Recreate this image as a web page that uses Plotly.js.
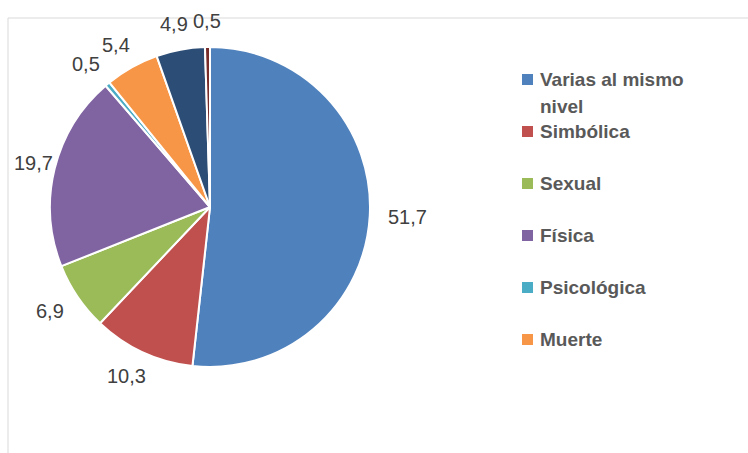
<!DOCTYPE html>
<html>
<head>
<meta charset="utf-8">
<script src="https://cdn.plot.ly/plotly-3.0.1.min.js"></script>
<style>html,body{margin:0;padding:0;background:#fff;}#chart{width:748px;height:453px;}</style>
</head>
<body>
<div id="chart"></div>
<script>
const categories = ["Varias al mismo nivel", "Simbólica", "Sexual", "Física", "Psicológica", "Muerte", "Otra A", "Otra B"];
const values = [51.7, 10.3, 6.9, 19.7, 0.5, 5.4, 4.9, 0.5];
const colors = ["#4F81BD", "#C0504D", "#9BBB59", "#8064A2", "#4BACC6", "#F79646", "#2C4D75", "#772C2A"];
const legendCategories = categories.slice(0, 6);
const legendLines = [["Varias al mismo", "nivel"], ["Simbólica"], ["Sexual"], ["Física"], ["Psicológica"], ["Muerte"]];

const W = 748, H = 453;
const px = x => x / W;
const py = y => 1 - y / H;

// pie geometry (pixels)
const CX = 210, CY = 207, RAD = 160;

const trace = {
  type: "pie",
  labels: categories,
  values: values,
  sort: false,
  direction: "clockwise",
  rotation: 0,
  marker: {colors: colors, line: {color: "#ffffff", width: 2}},
  textinfo: "none",
  hoverinfo: "label+value",
  automargin: false,
  showlegend: false,
  domain: {x: [px(CX - RAD), px(CX + RAD)], y: [py(CY + RAD), py(CY - RAD)]}
};

const shapes = [{
  type: "rect", xref: "paper", yref: "paper",
  x0: px(8), x1: px(760), y0: py(470), y1: py(18),
  line: {color: "#d9d9d9", width: 1}, fillcolor: "rgba(0,0,0,0)", layer: "below"
}];
const annotations = [];

// data labels placed outside each slice, from the slice's mid angle
const total = values.reduce((a, b) => a + b, 0);
let cum = 0;
values.forEach((v, i) => {
  const mid = (cum + v / 2) / total * 2 * Math.PI;
  cum += v;
  const dx = Math.sin(mid), dy = -Math.cos(mid);
  const txt = v.toFixed(1).replace(".", ",");
  const hw = txt.length * 5, hh = 8;
  const R = 178;
  let x = CX + R * dx + dx * hw;
  const y = CY + R * dy + dy * hh;
  x = Math.max(x, 13 + hw); // keep inside the chart frame
  annotations.push({
    xref: "paper", yref: "paper", x: px(x), y: py(y),
    xanchor: "center", yanchor: "middle", showarrow: false, text: txt,
    font: {family: "Liberation Sans, Arial, sans-serif", size: 20, color: "#404040"}
  });
});

// legend (only the first six categories are visible in the original)
legendCategories.forEach((c, i) => {
  const y = 79.5 + 52 * i;
  shapes.push({
    type: "rect", xref: "paper", yref: "paper",
    x0: px(522), x1: px(533), y0: py(y + 5.5), y1: py(y - 5.5),
    fillcolor: colors[i], line: {color: colors[i], width: 0}
  });
  legendLines[i].forEach((t, j) => {
    annotations.push({
      xref: "paper", yref: "paper", x: px(538), y: py(y + j * 27),
      xanchor: "left", yanchor: "middle", showarrow: false, text: "<b>" + t + "</b>",
      font: {family: "Liberation Sans, Arial, sans-serif", size: 19, color: "#595959"}
    });
  });
});

const layout = {
  width: W, height: H,
  margin: {l: 0, r: 0, t: 0, b: 0},
  paper_bgcolor: "#ffffff",
  showlegend: false,
  shapes: shapes,
  annotations: annotations
};

Plotly.newPlot("chart", [trace], layout, {displayModeBar: false, staticPlot: true});
</script>
</body>
</html>
